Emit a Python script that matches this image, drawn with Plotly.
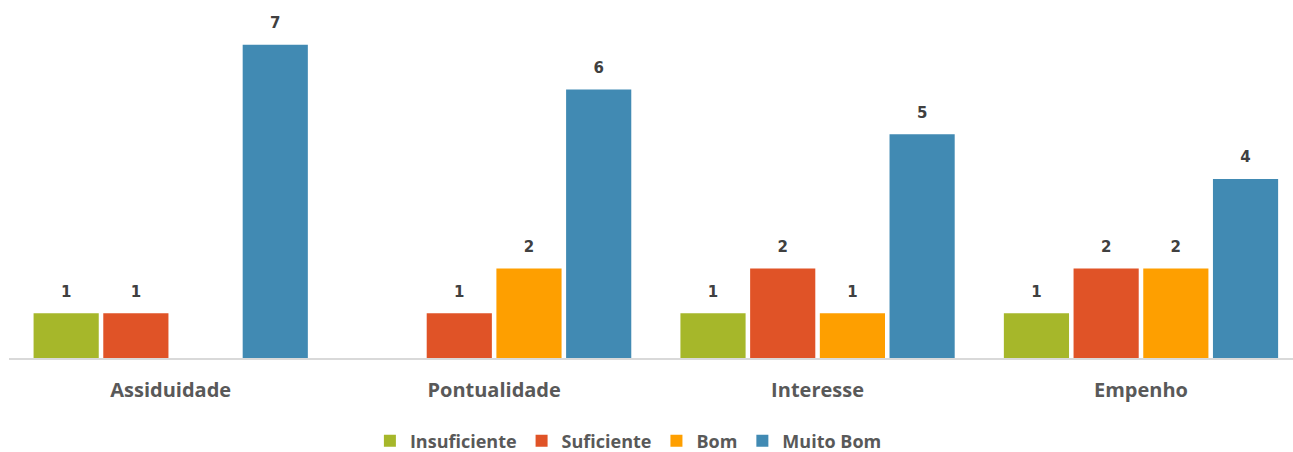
import plotly.graph_objects as go

categories = ["Assiduidade", "Pontualidade", "Interesse", "Empenho"]
insuficiente = [1, None, 1, 1]
suficiente = [1, 1, 2, 2]
bom = [None, 2, 1, 2]
muito_bom = [7, 6, 5, 4]

series = [
    ("Insuficiente", insuficiente, "#A6B72A"),
    ("Suficiente", suficiente, "#E05327"),
    ("Bom", bom, "#FE9F00"),
    ("Muito Bom", muito_bom, "#418AB3"),
]

fig = go.Figure()
for name, vals, color in series:
    fig.add_trace(go.Bar(
        x=categories, y=vals, name=name,
        marker=dict(color=color, line=dict(width=0)),
        text=[("" if v is None else f"<span style='font-size:15px'><b>{v}</b></span><br> ") for v in vals],
        textposition="outside",
        textfont=dict(family="DejaVu Sans", size=9, color="#404040"),
        cliponaxis=False,
    ))

fig.update_layout(
    width=1293, height=452,
    margin=dict(l=9, r=0, t=0, b=94, autoexpand=False),
    paper_bgcolor="white", plot_bgcolor="white",
    barmode="group", bargap=0.138, bargroupgap=0.065,
    font=dict(family="Open Sans", color="#595959"),
    xaxis=dict(range=[-0.5, 3.47], showgrid=False, showline=True,
               linecolor="#D9D9D9", linewidth=2, ticks="",
               ticklabelstandoff=13,
               tickfont=dict(family="Open Sans", size=20, color="#595959", weight="bold")),
    yaxis=dict(range=[0, 8], visible=False),
    showlegend=True,
    legend=dict(orientation="h", xref="container", yref="container",
                x=0.486, xanchor="center", y=0.024, yanchor="middle",
                font=dict(family="Open Sans", size=18, color="#595959", weight="bold"),
                itemwidth=30, traceorder="normal"),
)

fig.write_html("out.html", config={"displayModeBar": False},
               post_script="document.body.style.margin='0';")
